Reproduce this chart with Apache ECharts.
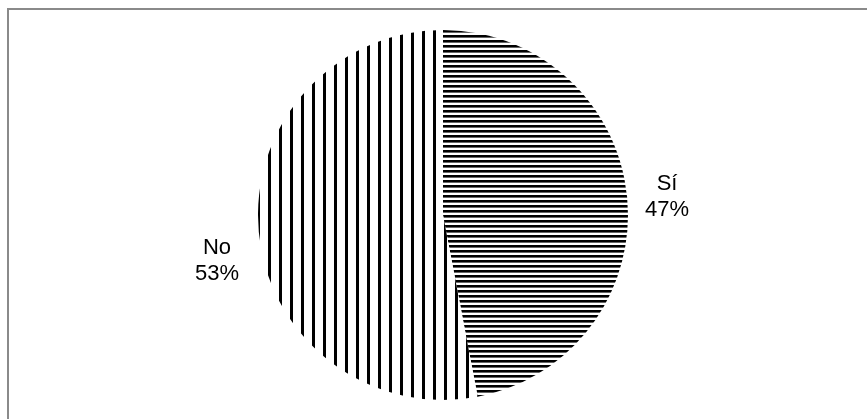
<!DOCTYPE html>
<html>
<head>
<meta charset="utf-8">
<script src="https://cdn.jsdelivr.net/npm/echarts@6/dist/echarts.min.js"></script>
<style>
html,body{margin:0;padding:0;background:#fff;}
#wrap{position:relative;width:867px;height:419px;overflow:hidden;}
#chart{position:absolute;left:0;top:0;width:867px;height:419px;}
#frame{position:absolute;left:7px;top:8px;width:900px;height:500px;border-top:2px solid #8a8a8a;border-left:2px solid #8a8a8a;box-sizing:border-box;pointer-events:none;}
</style>
</head>
<body>
<div id="wrap"><div id="chart"></div><div id="frame"></div></div>
<script>
const categories = ['Sí', 'No'];
const values = [47, 53];

function stripe(horizontal) {
  const c = document.createElement('canvas');
  const ctx = c.getContext('2d');
  if (horizontal) {
    c.width = 8; c.height = 5;
    ctx.fillStyle = '#fff'; ctx.fillRect(0, 0, 8, 5);
    ctx.fillStyle = '#000'; ctx.fillRect(0, 0, 8, 2.6);
  } else {
    c.width = 11; c.height = 8;
    ctx.fillStyle = '#fff'; ctx.fillRect(0, 0, 11, 8);
    ctx.fillStyle = '#000'; ctx.fillRect(4, 0, 3, 8);
  }
  return c;
}
const patterns = [stripe(true), stripe(false)];
const labelShift = [[5, 2], [-7, 26]];

const chart = echarts.init(document.getElementById('chart'), null, {renderer: 'canvas'});
chart.setOption({
  animation: false,
  backgroundColor: 'transparent',
  series: [{
    type: 'pie',
    center: [443, 215],
    radius: 185,
    startAngle: 90,
    clockwise: true,
    avoidLabelOverlap: false,
    data: categories.map((n, i) => ({
      name: n, value: values[i],
      itemStyle: {color: {image: patterns[i], repeat: 'repeat'}}
    })),
    itemStyle: {borderWidth: 0},
    label: {
      position: 'outside',
      formatter: p => p.name + '\n' + p.percent.toFixed(0) + '%',
      fontFamily: '"Liberation Sans", Arial, sans-serif',
      fontSize: 22,
      lineHeight: 26,
      color: '#000'
    },
    labelLayout: p => ({align: 'center', dx: labelShift[p.dataIndex][0], dy: labelShift[p.dataIndex][1]}),
    labelLine: {show: false, length: 30, length2: 0},
    emphasis: {disabled: true}
  }]
});
</script>
</body>
</html>
